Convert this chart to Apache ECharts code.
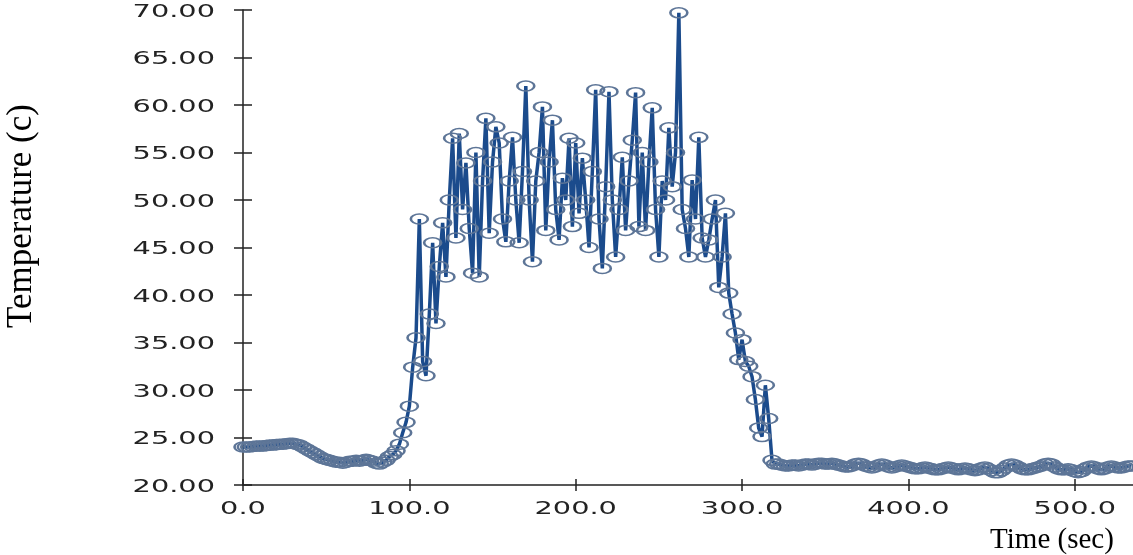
<!DOCTYPE html>
<html>
<head>
<meta charset="utf-8">
<script src="https://cdn.jsdelivr.net/npm/echarts@6/dist/echarts.min.js"></script>
<style>
html,body{margin:0;padding:0;background:#fff;}
#chart{width:1133px;height:555px;}
</style>
</head>
<body>
<div id="chart"></div>
<script>
// Sampling interval of the logger (seconds)
const TIME_STEP_SEC = 2;
// Temperature readings (°C), one every TIME_STEP_SEC starting at t = 0
const temperature = [
  // 0 - 34 s
  24.0,24.0,24.0,24.05,24.1,24.1,24.1,24.15,24.2,24.2,24.25,24.3,24.3,24.35,24.4,24.4,24.3,24.2,
  // 36 - 60 s
  24.0,23.8,23.6,23.4,23.2,23.0,22.8,22.7,22.6,22.5,22.4,22.4,22.3,
  // 62 - 84 s
  22.4,22.5,22.5,22.6,22.5,22.6,22.7,22.6,22.5,22.3,22.2,22.4,
  // 86 - 320 s
  22.6,23.0,23.2,23.6,24.3,25.5,26.6,28.3,32.4,35.5,
  48.0,33.0,31.5,38.0,45.5,37.0,43.0,47.6,41.9,50.0,
  56.5,46.0,57.0,49.0,53.9,47.0,42.3,55.0,41.9,52.0,
  58.6,46.5,54.0,57.7,56.0,48.0,45.6,52.0,56.6,50.0,
  45.5,53.0,62.0,50.0,43.5,52.0,55.0,59.8,46.8,54.0,
  58.4,49.0,45.8,52.3,50.0,56.5,47.2,56.0,48.6,54.4,
  50.0,45.0,53.0,61.6,48.0,42.8,51.4,61.4,50.0,44.0,
  49.0,54.5,46.8,52.0,56.3,61.3,47.2,55.0,46.8,54.0,
  59.7,49.0,44.0,52.0,50.0,57.6,51.4,55.0,69.7,49.0,
  47.0,44.0,52.1,48.0,56.6,46.0,44.0,45.8,48.0,50.0,
  40.8,44.0,48.6,40.2,38.0,36.0,33.2,35.3,33.0,32.5,
  31.4,29.0,26.0,25.1,30.5,27.0,22.6,22.2,
  // 322 - 534 s
  22.2,22.1,22.0,22.0,22.1,22.1,22.0,22.1,22.2,22.2,
  22.1,22.2,22.3,22.3,22.2,22.2,22.3,22.2,22.1,22.0,
  21.9,21.9,22.0,22.2,22.3,22.2,22.0,21.9,21.8,21.9,
  22.1,22.2,22.1,21.9,21.8,21.9,22.0,22.1,22.0,21.9,
  21.8,21.7,21.7,21.8,21.9,21.8,21.7,21.6,21.6,21.7,
  21.8,21.9,21.8,21.7,21.6,21.7,21.8,21.7,21.6,21.5,
  21.6,21.8,21.9,21.7,21.5,21.3,21.3,21.5,21.8,22.1,
  22.2,22.1,21.9,21.7,21.6,21.6,21.7,21.8,21.9,22.0,
  22.2,22.3,22.2,21.9,21.7,21.6,21.6,21.7,21.6,21.4,
  21.3,21.4,21.7,21.9,22.0,21.9,21.7,21.6,21.7,21.9,
  22.0,21.9,21.8,21.8,21.9,22.0,22.0
];
const xTicks = [0, 100, 200, 300, 400, 500];
const yTicks = [20, 25, 30, 35, 40, 45, 50, 55, 60, 65, 70];
const xTitle = 'Time (sec)';
const yTitle = 'Temperature (c)';

const points = temperature.map((v, i) => [i * TIME_STEP_SEC, v]);

const GRID = { left: 243, right: 0, top: 10, bottom: 70 };
const axisLineStyle = { color: '#222', width: 1.5 };
const tickFont = '18px "DejaVu Sans"';
const tickColor = '#222';
const TICK_SCALE_X = 1.6;

const chart = echarts.init(document.getElementById('chart'));
chart.setOption({
  animation: false,
  backgroundColor: '#fff',
  grid: Object.assign({ containLabel: false }, GRID),
  xAxis: [
    {
      type: 'value', min: 0, max: 535, position: 'bottom',
      axisLine: { show: true, lineStyle: axisLineStyle },
      axisTick: { show: true, length: 6, inside: false, customValues: xTicks, lineStyle: axisLineStyle },
      axisLabel: { show: false },
      splitLine: { show: false }
    },
    {
      type: 'value', min: 0, max: 535, position: 'bottom',
      axisLine: { show: false },
      axisTick: { show: true, length: 6, inside: true, customValues: xTicks, lineStyle: axisLineStyle },
      axisLabel: { show: false },
      splitLine: { show: false }
    }
  ],
  yAxis: [
    {
      type: 'value', min: 20, max: 70, interval: 5, position: 'left',
      axisLine: { show: true, lineStyle: axisLineStyle },
      axisTick: { show: true, length: 9, inside: false, lineStyle: axisLineStyle },
      axisLabel: { show: false },
      splitLine: { show: false }
    },
    {
      type: 'value', min: 20, max: 70, interval: 5, position: 'left',
      axisLine: { show: false },
      axisTick: { show: true, length: 9, inside: true, lineStyle: axisLineStyle },
      axisLabel: { show: false },
      splitLine: { show: false }
    }
  ],
  series: [
    {
      type: 'line',
      data: points,
      xAxisIndex: 0, yAxisIndex: 0,
      showSymbol: true, showAllSymbol: true,
      symbol: 'circle', symbolSize: [17, 10],
      lineStyle: { color: '#1b4b8c', width: 3.5 },
      itemStyle: { color: 'rgba(0,0,0,0)', borderColor: '#5d7597', borderWidth: 2 },
      clip: false,
      z: 3
    }
  ]
});

// Tick labels (wide face, as in the original), positioned through the axes' own scales
const graphics = [];
const axisBottomY = chart.convertToPixel({ yAxisIndex: 0 }, 20);
const axisLeftX = chart.convertToPixel({ xAxisIndex: 0 }, 0);
yTicks.forEach(v => {
  graphics.push({
    type: 'text', x: axisLeftX - 28, y: chart.convertToPixel({ yAxisIndex: 0 }, v) + 2,
    scaleX: TICK_SCALE_X,
    style: { text: v.toFixed(2), font: tickFont, fill: tickColor, align: 'right', verticalAlign: 'middle' }
  });
});
xTicks.forEach(v => {
  graphics.push({
    type: 'text', x: chart.convertToPixel({ xAxisIndex: 0 }, v), y: axisBottomY + 24,
    scaleX: TICK_SCALE_X,
    style: { text: v.toFixed(1), font: tickFont, fill: tickColor, align: 'center', verticalAlign: 'middle' }
  });
});
graphics.push({
  type: 'text', x: 22, y: 216, rotation: Math.PI / 2,
  style: { text: yTitle, font: '35px "Liberation Serif"', fill: '#000', align: 'center', verticalAlign: 'middle' }
});
graphics.push({
  type: 'text', x: 1052, y: 540,
  style: { text: xTitle, font: '29px "Liberation Serif"', fill: '#000', align: 'center', verticalAlign: 'middle' }
});
chart.setOption({ graphic: graphics });
</script>
</body>
</html>
